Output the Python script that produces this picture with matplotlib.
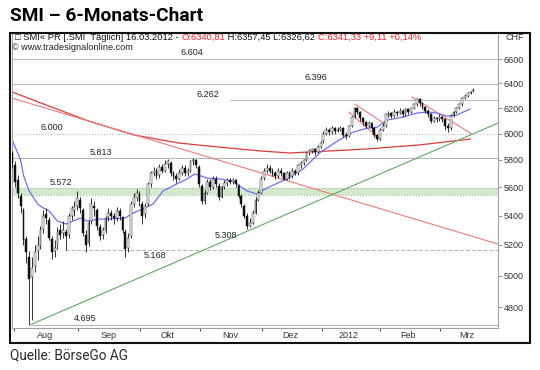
import numpy as np
import matplotlib
matplotlib.use('Agg')
import matplotlib.pyplot as plt
from matplotlib.ticker import FixedLocator, NullLocator, FixedFormatter, NullFormatter
from matplotlib.patches import Rectangle

# ---------------- data ----------------
days = list(range(-1, 163))  # trading-day index, 0 = 1 Aug 2011
opens = [5850,5760,5650,5540,5440,5240,5120,4990,5060,5160,5190,5310,5410,5370,5240,5160,5190,5300,5280,5290,
         5270,5400,5440,5470,5510,5440,5270,5210,5360,5470,5440,5320,5270,5300,5390,5420,5400,5380,5430,5390,
         5290,5180,5260,5480,5520,5550,5480,5410,5480,5620,5700,5720,5690,5750,5720,5770,5780,5700,5680,5660,
         5700,5740,5700,5720,5790,5800,5750,5610,5500,5560,5640,5600,5660,5610,5530,5600,5630,5650,5640,5650,
         5610,5540,5470,5400,5330,5350,5420,5510,5560,5670,5720,5740,5720,5700,5680,5720,5700,5660,5700,5680,
         5720,5700,5760,5780,5800,5850,5870,5880,5860,5900,5940,6000,6030,6010,6040,6020,6030,6040,5990,5980,
         6060,6130,6200,6170,6120,6090,6060,6080,6040,5990,5960,6030,6060,6150,6160,6140,6170,6160,6180,6150,
         6190,6170,6200,6230,6270,6240,6210,6180,6150,6100,6120,6110,6130,6110,6060,6040,6140,6170,6200,6230,
         6280,6300,6320,6340.81]
highs = [5870,5790,5690,5560,5450,5260,5160,5120,5200,5260,5330,5440,5450,5390,5260,5230,5320,5340,5360,5310,
         5420,5470,5500,5572,5530,5450,5300,5370,5520,5500,5450,5340,5320,5400,5450,5440,5420,5460,5450,5400,
         5310,5280,5500,5560,5590,5570,5500,5490,5640,5720,5750,5740,5770,5770,5800,5810,5790,5720,5700,5730,
         5760,5760,5740,5800,5813,5810,5760,5620,5580,5660,5660,5680,5680,5630,5610,5650,5670,5670,5670,5660,
         5620,5550,5480,5420,5380,5440,5530,5580,5680,5740,5770,5760,5740,5720,5740,5740,5710,5720,5720,5740,
         5730,5770,5790,5810,5860,5880,5890,5890,5910,5940,6020,6050,6040,6060,6050,6050,6060,6050,6010,6070,
         6140,6210,6210,6180,6130,6100,6100,6090,6050,6000,6040,6080,6160,6180,6170,6190,6180,6200,6190,6200,
         6200,6210,6240,6280,6280,6250,6220,6190,6160,6140,6130,6150,6140,6120,6080,6150,6180,6210,6240,6290,
         6310,6330,6340,6357.45]
lows = [5740,5600,5520,5420,5200,5080,4695,4720,5020,5100,5170,5280,5340,5230,5110,5120,5170,5240,5250,5168,
        5250,5370,5400,5440,5420,5260,5150,5190,5340,5400,5300,5230,5240,5280,5360,5370,5340,5360,5370,5280,
        5120,5150,5250,5460,5500,5470,5340,5380,5470,5600,5680,5660,5670,5700,5710,5740,5680,5650,5630,5650,
        5690,5680,5680,5710,5760,5740,5600,5480,5480,5550,5580,5590,5600,5510,5520,5590,5610,5620,5620,5600,
        5520,5460,5380,5308,5320,5340,5410,5500,5550,5650,5700,5700,5680,5660,5670,5680,5650,5650,5660,5670,
        5690,5690,5740,5760,5790,5840,5850,5840,5850,5890,5930,5990,5990,6000,6000,6010,6020,5970,5960,5970,
        6050,6120,6150,6100,6070,6040,6050,6020,5970,5940,5950,6020,6050,6130,6120,6130,6140,6150,6130,6140,
        6150,6160,6190,6220,6220,6190,6160,6130,6080,6090,6090,6100,6090,6030,6010,6030,6130,6160,6190,6220,
        6270,6290,6310,6326.62]
closes = [5780,5640,5560,5470,5230,5150,4980,5050,5150,5200,5300,5400,5380,5250,5150,5180,5290,5270,5300,5260,
          5400,5450,5460,5520,5450,5280,5200,5350,5480,5450,5330,5260,5300,5380,5420,5400,5380,5430,5400,5300,
          5170,5250,5480,5530,5560,5500,5400,5470,5620,5700,5720,5680,5750,5720,5770,5790,5700,5680,5660,5700,
          5740,5700,5720,5790,5800,5760,5620,5500,5560,5640,5600,5660,5620,5530,5600,5630,5650,5640,5650,5620,
          5540,5480,5400,5330,5350,5420,5510,5560,5660,5720,5740,5720,5700,5680,5720,5700,5660,5700,5680,5720,
          5700,5760,5780,5800,5850,5870,5880,5860,5900,5930,6000,6030,6010,6040,6020,6030,6040,5990,5980,6060,
          6130,6200,6170,6120,6090,6060,6080,6040,5990,5960,6030,6060,6150,6160,6140,6170,6160,6180,6150,6190,
          6170,6200,6230,6270,6240,6210,6180,6150,6100,6120,6110,6130,6110,6060,6040,6140,6170,6200,6230,6280,
          6300,6320,6330,6341.33]

# short moving average (blue)
ma_days = [-1, 2, 3, 5, 8, 10, 12, 15, 18, 20.5, 23, 25.5, 30, 33.5, 39, 41.7, 45.2, 48.8, 52.3, 57.2, 60.8,
           63.6, 67.8, 72.4, 77, 82, 85.5, 89, 96, 101.8, 107.8, 113.8, 119.4, 124.4, 128, 131.4, 137, 142,
           145.6, 149, 152.7, 156.2, 160.8]
ma_vals = [5950, 5800, 5685, 5573, 5481, 5453, 5432, 5362, 5342, 5362, 5383, 5362, 5376, 5376, 5383, 5418, 5446,
           5481, 5573, 5624, 5660, 5697, 5667, 5660, 5645, 5573, 5552, 5594, 5660, 5733, 5855, 5940, 6010, 6041,
           6049, 6104, 6128, 6160, 6168, 6160, 6136, 6144, 6192]

# long moving average (red curve)
ma200_days = [-1, 12, 26, 42, 58, 72, 87, 97, 111, 125, 143, 161]
ma200_vals = [6329, 6216, 6097, 5989, 5927, 5897, 5867, 5852, 5867, 5883, 5913, 5958]

# trend lines (day, value) pairs
red_trend_days, red_trend_vals = [-1.06, 170.7], [6280, 5206]
green_trend_days, green_trend_vals = [5.6, 170.7], [4695, 6081]
jan_chan_a_days, jan_chan_a_vals = [118, 129.3], [6168, 5951]
jan_chan_b_days, jan_chan_b_vals = [120.1, 130.7], [6232, 6074]
feb_trend_days, feb_trend_vals = [140.3, 161.5], [6288, 5996]

# horizontal levels
levels = [6604, 6396, 6262, 6000, 5813, 5168, 4695]
level_labels = ['6.604', '6.396', '6.262', '6.000', '5.813', '5.168', '4.695']
level_start = [-1.06, -1.06, 76, -1.06, -1.06, 17.7, 5.6]
level_label_day = [62.5, 106.4, 68.2, 13.1, 30.4, 49.5, 24.7]
level_label_above = [True, True, True, True, True, False, True]
level_style = ['-', '-', '-', ':', '-', '--', '-']
support_zone = (5548, 5592)
support_label, support_label_day = '5.572', 16.3
low_label, low_label_day, low_value = '5.308', 74.6, 5308

yticks = [4800, 5000, 5200, 5400, 5600, 5800, 6000, 6200, 6400, 6600]
month_bounds = [-0.2, 22.3, 44.2, 65.4, 87.3, 108.5, 129.0, 150.2]
month_mid = [10.6, 32.9, 54.0, 76.0, 97.2, 118.0, 138.9, 159.7]
month_labels = ['Aug', 'Sep', 'Okt', 'Nov', 'Dez', '2012', 'Feb', 'Mrz']

# ---------------- figure ----------------
W, H = 540, 370
fig = plt.figure(figsize=(W / 100, H / 100), dpi=100)
fig.patch.set_facecolor('white')
def fx(px): return px / W
def fy(py): return 1 - py / H

CF = ['Liberation Sans', 'DejaVu Sans']
TITLE_F = ['Roboto', 'DejaVu Sans']

ax = fig.add_axes([fx(12), fy(328), fx(498) - fx(12), fy(33) - fy(328)])
ax.set_yscale('log')
ax.set_ylim(4674, 6827)
ax.set_xlim(-1.06, 170.7)
ax.set_facecolor('white')

x0, x1 = ax.get_xlim()
for v, s, st in zip(levels, level_start, level_style):
    ax.hlines(v, s, x1, colors='#b8b8b8', linestyles=st, lw=0.8, zorder=1)
ax.axhspan(support_zone[0], support_zone[1], color='#d3e8cc', lw=0, zorder=1)
ax.hlines(list(support_zone), x0, x1, colors='#9cc58e', linestyles=':', lw=0.8, zorder=1)

ax.plot(ma200_days, ma200_vals, color='#e23a3a', lw=0.9, zorder=2)
ax.plot(red_trend_days, red_trend_vals, color='#f07a7a', lw=0.8, zorder=2)
ax.plot(green_trend_days, green_trend_vals, color='#62a862', lw=0.8, zorder=2)
ax.plot(jan_chan_a_days, jan_chan_a_vals, color='#f07a7a', lw=0.8, zorder=2)
ax.plot(jan_chan_b_days, jan_chan_b_vals, color='#f07a7a', lw=0.8, zorder=2)
ax.plot(feb_trend_days, feb_trend_vals, color='#f07a7a', lw=0.8, zorder=2)
ax.plot(ma_days, ma_vals, color='#6f6ff5', lw=0.9, zorder=2)

d = np.array(days, float)
o = np.array(opens, float); h = np.array(highs, float)
l = np.array(lows, float); c = np.array(closes, float)
ax.vlines(d, l, h, colors='#111111', lw=0.6, zorder=3)
up = c >= o
ax.bar(d[up], (c - o)[up], bottom=o[up], width=0.65, color='white', edgecolor='#222222', lw=0.35, zorder=4)
ax.bar(d[~up], (o - c)[~up], bottom=c[~up], width=0.65, color='#111111', edgecolor='#111111', lw=0.35, zorder=4)

for v, s, dd, above in zip(levels, level_labels, level_label_day, level_label_above):
    ax.annotate(s, xy=(dd, v), xytext=(0, 1.2 if above else -1.2), textcoords='offset points',
                ha='center', va='bottom' if above else 'top', fontsize=6.5, family=CF, color='#222222', zorder=5)
ax.annotate(support_label, xy=(support_label_day, support_zone[1]), xytext=(0, 1.2), textcoords='offset points',
            ha='center', va='bottom', fontsize=6.5, family=CF, color='#222222', zorder=5)
ax.annotate(low_label, xy=(low_label_day, low_value), xytext=(0, -1.2), textcoords='offset points',
            ha='center', va='top', fontsize=6.5, family=CF, color='#222222', zorder=5)

for side in ['left', 'right', 'bottom']:
    ax.spines[side].set_color('#a0a0a0')
    ax.spines[side].set_linewidth(0.8)
ax.spines['top'].set_visible(False)
ax.yaxis.tick_right()
ax.yaxis.set_major_locator(FixedLocator(yticks))
ax.yaxis.set_major_formatter(FixedFormatter([str(t) for t in yticks]))
ax.yaxis.set_minor_locator(NullLocator())
ax.yaxis.set_minor_formatter(NullFormatter())
ax.tick_params(axis='y', which='major', direction='out', length=3, width=0.6, color='#888888',
               labelsize=6.5, labelcolor='#333333', pad=1)
for lab in ax.get_yticklabels():
    lab.set_family(CF)

ax.xaxis.set_major_locator(FixedLocator(month_bounds))
ax.xaxis.set_major_formatter(NullFormatter())
ax.xaxis.set_minor_locator(FixedLocator(month_mid))
ax.xaxis.set_minor_formatter(FixedFormatter(month_labels))
ax.tick_params(axis='x', which='major', direction='out', length=2.5, width=0.8, color='#555555')
ax.tick_params(axis='x', which='minor', length=0, labelsize=6.5, labelcolor='#333333', pad=2.5)
for lab in ax.get_xticklabels(minor=True):
    lab.set_family(CF)

fig.add_artist(Rectangle((fx(10), fy(343)), fx(530) - fx(10), fy(33) - fy(343), transform=fig.transFigure,
                         fill=False, lw=1.5, ec='#111111', zorder=10))

renderer = fig.canvas.get_renderer()

def text_width(s, size, **kw):
    t = fig.text(0, 0, s, fontsize=size, **kw)
    w = t.get_window_extent(renderer).width
    t.remove()
    return w

def fitted(x, y, s, target_w, max_size=None, **kw):
    w = text_width(s, 10, **kw)
    size = 10 * target_w / w
    if max_size:
        size = min(size, max_size)
    return fig.text(fx(x), fy(y), s, fontsize=size, ha='left', va='center', **kw)

pieces = [('\u25a1 SMI\u00ab PR [.SMI  T\u00e4glich] 16.03.2012 - ', '#111111'), ('O:6340,81', '#ff2020'),
          (' H:6357,45 L:6326,62 ', '#111111'), ('C:6341,33 +9,11 +0,14%', '#ff2020')]
full = ''.join(p for p, _ in pieces)
hsize = 10 * (423 - 15) / text_width(full, 10, family=CF)
xc = 15
for s, col in pieces:
    t = fig.text(fx(xc), fy(37.5), s, fontsize=hsize, family=CF, color=col, ha='left', va='center')
    xc += t.get_window_extent(renderer).width
fitted(12, 48, '\u00a9 www.tradesignalonline.com', 121, family=CF, color='#222222')
fig.text(fx(505), fy(37.5), 'CHF', fontsize=6.5, family=CF, color='#333333', ha='left', va='center')

fitted(10, 16, 'SMI \u2013 6-Monats-Chart', 193, max_size=16, family=TITLE_F, weight='bold', color='black')
fitted(10, 355, 'Quelle: B\u00f6rseGo AG', 118, max_size=12, family=TITLE_F, weight='normal', color='#2a2a2a')

fig.savefig('out.png', dpi=100)
